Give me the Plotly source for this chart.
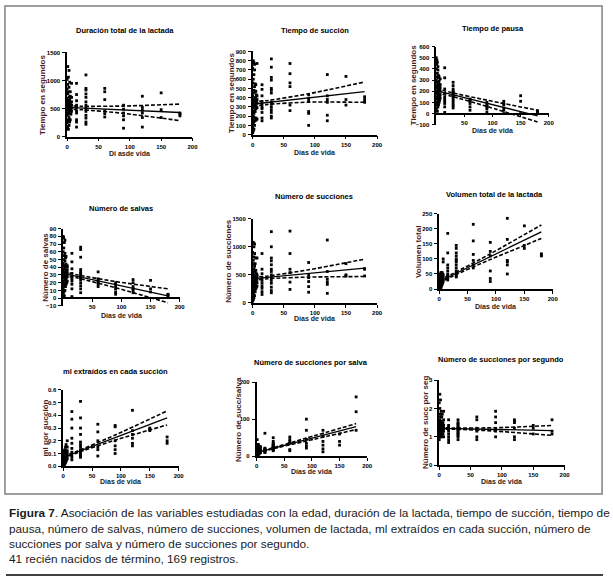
import plotly.graph_objects as go

W, H = 613, 582

# ---------------- DATA ----------------
dias = ([0]*8 + [1]*8 + [2]*8 + [3]*8 + [4]*6 + [5]*6 + [6]*4 + [7]*6 +
        [15]*10 + [30]*14 + [60]*6 + [90]*6 + [120]*6 + [150]*3 + [180]*3)

duracion = [150, 250, 380, 470, 560, 680, 850, 1020,
            180, 300, 420, 510, 600, 760, 930, 1250,
            130, 280, 400, 490, 550, 640, 800, 1060,
            200, 340, 450, 520, 580, 700, 880, 1180,
            260, 420, 500, 560, 650, 970,
            300, 450, 520, 600, 720, 800,
            400, 500, 560, 700,
            450, 510, 560, 620, 700, 950,
            170, 260, 300, 420, 460, 520, 560, 640, 750, 950,
            220, 260, 330, 380, 450, 480, 520, 560, 620, 700, 760, 830, 860, 1100,
            350, 410, 460, 660, 800, 860,
            150, 300, 370, 420, 490, 560,
            170, 340, 420, 470, 520, 720,
            340, 480, 780,
            370, 400, 420]

succion = [20, 80, 160, 250, 330, 420, 560, 720,
           40, 120, 200, 290, 360, 450, 600, 800,
           60, 140, 230, 310, 380, 480, 650, 780,
           100, 180, 260, 330, 400, 520, 700, 760,
           150, 250, 320, 380, 460, 550,
           180, 280, 340, 400, 470, 540,
           160, 300, 360, 430,
           170, 290, 340, 380, 420, 770,
           150, 180, 240, 280, 300, 330, 360, 420, 490, 540,
           180, 200, 240, 270, 300, 330, 350, 450, 480, 500, 590, 620, 730, 820,
           260, 320, 520, 560, 660, 770,
           100, 230, 250, 360, 390, 430,
           150, 210, 350, 380, 420, 650,
           320, 380, 630,
           350, 380, 410]

pausa = [30, 80, 130, 180, 230, 300, 400, 500,
         50, 100, 150, 200, 250, 330, 440, 480,
         20, 90, 140, 190, 240, 280, 360, 460,
         60, 110, 160, 210, 260, 320, 390, 420,
         80, 130, 170, 220, 280, 340,
         100, 150, 200, 230, 290, 330,
         120, 160, 210, 250,
         140, 170, 200, 230, 260, 310,
         10, 60, 90, 110, 130, 150, 180, 220, 320, 410,
         50, 70, 90, 110, 130, 150, 160, 170, 180, 190, 200, 220, 250, 280,
         30, 60, 90, 110, 120, 130,
         10, 40, 60, 70, 80, 100,
         0, 30, 50, 80, 90, 110,
         0, 110, 160,
         15, 20, 25]

salvas = [5, 12, 20, 28, 35, 45, 60, 80,
          8, 15, 22, 30, 38, 50, 65, 78,
          3, 10, 18, 26, 33, 42, 55, 72,
          10, 18, 25, 32, 40, 48, 58, 75,
          15, 22, 28, 34, 42, 52,
          18, 25, 30, 36, 44, 54,
          20, 27, 33, 40,
          22, 28, 32, 36, 40, 42,
          2, 12, 18, 22, 25, 28, 32, 38, 47, 58,
          7, 12, 16, 20, 24, 26, 28, 30, 32, 34, 37, 53, 63, 66,
          15, 18, 20, 22, 25, 34,
          5, 8, 12, 15, 18, 20,
          7, 10, 12, 15, 20, 24,
          8, 12, 23,
          3, 4, 5]

succiones = [30, 120, 220, 330, 420, 520, 700, 900,
             60, 160, 260, 360, 450, 560, 760, 1080,
             90, 190, 290, 380, 470, 600, 820, 1000,
             130, 230, 320, 400, 500, 650, 880, 1050,
             200, 300, 380, 460, 550, 700,
             250, 330, 400, 480, 580, 800,
             280, 370, 440, 520,
             300, 360, 420, 470, 500, 800,
             150, 200, 260, 300, 350, 400, 450, 520, 600, 880,
             180, 220, 280, 350, 400, 450, 500, 560, 600, 680, 750, 800, 1000, 1270,
             240, 370, 540, 600, 880, 1280,
             190, 290, 380, 450, 500, 720,
             170, 330, 370, 420, 560, 1120,
             480, 500, 700,
             480, 600, 610]

volumen = [0, 2, 4, 6, 10, 15, 22, 30,
           1, 4, 8, 12, 18, 25, 35, 45,
           3, 6, 10, 16, 22, 30, 40, 50,
           5, 10, 15, 22, 28, 35, 45, 55,
           10, 18, 25, 32, 40, 50,
           15, 22, 30, 36, 45, 55,
           20, 30, 38, 50,
           25, 32, 40, 48, 90, 100,
           30, 35, 40, 45, 50, 60, 70, 80, 120, 185,
           40, 45, 50, 55, 60, 70, 80, 90, 95, 100, 110, 120, 135, 145,
           70, 80, 95, 115, 160, 215,
           25, 35, 60, 110, 125, 155,
           50, 80, 90, 95, 165, 235,
           135, 145, 210,
           110, 113, 117]

ml_succion = [0.00, 0.01, 0.02, 0.03, 0.05, 0.07, 0.09, 0.12,
              0.00, 0.02, 0.03, 0.05, 0.06, 0.08, 0.10, 0.11,
              0.01, 0.02, 0.04, 0.05, 0.07, 0.09, 0.10, 0.12,
              0.02, 0.03, 0.05, 0.06, 0.08, 0.09, 0.11, 0.13,
              0.03, 0.05, 0.07, 0.09, 0.11, 0.15,
              0.04, 0.06, 0.08, 0.10, 0.12, 0.17,
              0.05, 0.07, 0.09, 0.12,
              0.06, 0.08, 0.10, 0.12, 0.15, 0.20,
              0.05, 0.07, 0.09, 0.11, 0.14, 0.18, 0.22, 0.30, 0.37, 0.43,
              0.07, 0.08, 0.09, 0.10, 0.11, 0.12, 0.13, 0.15, 0.17, 0.19, 0.25, 0.30, 0.38, 0.51,
              0.08, 0.13, 0.15, 0.20, 0.27, 0.33,
              0.10, 0.13, 0.16, 0.20, 0.31, 0.32,
              0.16, 0.18, 0.22, 0.25, 0.28, 0.44,
              0.28, 0.29, 0.30,
              0.18, 0.20, 0.23]

succ_salva = [2, 5, 8, 10, 13, 16, 20, 25,
              3, 6, 9, 12, 15, 18, 24, 45,
              4, 7, 10, 13, 16, 20, 26, 30,
              5, 8, 11, 14, 17, 21, 25, 32,
              6, 10, 13, 16, 20, 28,
              8, 11, 14, 18, 22, 25,
              9, 12, 16, 20,
              10, 13, 16, 19, 22, 26,
              10, 12, 14, 15, 16, 17, 18, 20, 22, 62,
              15, 17, 19, 20, 22, 24, 25, 26, 28, 30, 32, 35, 40, 50,
              15, 18, 35, 40, 45, 52,
              22, 28, 35, 45, 70, 100,
              12, 20, 30, 40, 55, 70,
              30, 40, 60,
              70, 120, 160]

succ_seg = [0.9, 1.0, 1.1, 1.2, 1.3, 1.5, 1.8, 2.2,
            1.0, 1.1, 1.2, 1.3, 1.4, 1.6, 2.0, 2.5,
            1.0, 1.1, 1.2, 1.3, 1.35, 1.5, 1.7, 2.3,
            1.05, 1.15, 1.25, 1.3, 1.4, 1.55, 1.8, 1.9,
            1.0, 1.2, 1.3, 1.35, 1.45, 1.7,
            1.1, 1.2, 1.25, 1.3, 1.4, 1.8,
            1.1, 1.25, 1.3, 1.5,
            1.0, 1.2, 1.3, 1.4, 1.6, 1.9,
            0.8, 0.9, 1.0, 1.1, 1.2, 1.25, 1.3, 1.35, 1.4, 1.6,
            0.9, 1.0, 1.05, 1.1, 1.15, 1.2, 1.25, 1.3, 1.3, 1.35, 1.4, 1.45, 1.5, 1.6,
            0.9, 1.0, 1.2, 1.3, 1.6, 1.7,
            1.0, 1.2, 1.3, 1.5, 1.7, 1.9,
            0.9, 1.0, 1.3, 1.5, 1.55, 1.6,
            1.1, 1.3, 1.4,
            1.1, 1.2, 1.6]

# regression lines and 95% bands
fit_x = [0, 180]
band_x = [0, 25, 90, 180]
fits = {
    "duracion":   ([520, 430],   [550, 540, 545, 580],       [490, 478, 415, 285]),
    "succion":    ([330, 465],   [355, 370, 442, 570],       [305, 328, 352, 350]),
    "pausa":      ([205, -20],   [225, 190, 120, 30],        [185, 158, 64, -75]),
    "salvas":     ([32, 3],      [34.5, 30, 21.5, 12],       [29.5, 26, 13.5, -6]),
    "succiones":  ([430, 620],   [460, 480, 590, 780],       [400, 432, 460, 470]),
    "volumen":    ([25, 190],    [30, 52, 117, 213],         [20, 44, 98, 168]),
    "ml_succion": ([0.07, 0.38], [0.08, 0.12, 0.245, 0.435], [0.06, 0.106, 0.205, 0.325]),
    "succ_salva": ([10, 80],     [12, 21, 49, 88],           [8, 18.5, 41, 72]),
    "succ_seg":   ([1.30, 1.22], [1.33, 1.31, 1.32, 1.40],   [1.27, 1.27, 1.20, 1.05]),
}

titles = ["Duración total de la lactada", "Tiempo de succión", "Tiempo de pausa",
          "Número de salvas", "Número de succiones", "Volumen total de la lactada",
          "ml extraídos en cada succión", "Número de succiones por salva",
          "Número de succiones por segundo"]
ylabels = ["Tiempo en segundos", "Tiempo en segundos", "Tiempo en segundos",
           "Número de salvas", "Número de succiones", "Volumen total",
           "ml por succión", "Número de succ/salva", "Número de succ por seg"]
xlabels = ["Di asde vida"] + ["Días de vida"] * 8
keys = ["duracion", "succion", "pausa", "salvas", "succiones", "volumen",
        "ml_succion", "succ_salva", "succ_seg"]
series = [duracion, succion, pausa, salvas, succiones, volumen,
          ml_succion, succ_salva, succ_seg]
yranges = [(0, 1500, 500), (0, 900, 100), (-100, 600, 100), (-10, 90, 10),
           (0, 1500, 500), (0, 250, 50), (0, 0.6, 0.1), (0, 200, 100), (0, 3, 1)]

# ---------------- LAYOUT (pixel geometry) ----------------
# x0px, x1px, ytop_px, ybot_px
boxes = [(66, 193, 50, 135), (254, 380, 49, 133), (440, 554, 44, 123),
         (62, 180, 228, 306), (254, 380, 218, 303), (443, 558, 213, 289),
         (62, 179, 391, 468), (258, 370, 383, 458), (443, 570, 381, 467)]
title_pos = [(125, 28), (317, 28), (497, 26), (121, 208), (316, 196), (499, 194),
             (115, 372), (313, 363), (506, 360)]
ylab_x = [41, 232, 417, 44, 230, 422, 44, 239, 429]
xlab_y = [152, 151, 129, 316, 319, 307, 483, 473, 483]


def fx(p):
    return p / W


def fy(p):
    return 1 - p / H


fig = go.Figure()
annotations = []
shapes = []
BASE = "Liberation Sans"

for i in range(9):
    ax = "" if i == 0 else str(i + 1)
    xref, yref = "x" + ax, "y" + ax
    x0, x1, yt, yb = boxes[i]
    ymin, ymax, dt = yranges[i]
    fl, up, lo = fits[keys[i]]

    fig.add_trace(go.Scatter(x=dias, y=series[i], mode="markers", xaxis=xref, yaxis=yref,
                             marker=dict(symbol="square", size=2.8, color="black"),
                             cliponaxis=False, showlegend=False, hoverinfo="skip"))
    fig.add_trace(go.Scatter(x=fit_x, y=fl, mode="lines", xaxis=xref, yaxis=yref,
                             line=dict(color="black", width=1.3), showlegend=False))
    for b in (up, lo):
        fig.add_trace(go.Scatter(x=band_x, y=b, mode="lines", xaxis=xref, yaxis=yref,
                                 line=dict(color="black", width=1.6, dash="4px,2px",
                                           shape="spline", smoothing=0.6),
                                 showlegend=False))

    ydom = [fy(yb), fy(yt)]
    xaxis = dict(domain=[fx(x0), fx(x1)], range=[0, 200], tickvals=[0, 50, 100, 150, 200],
                 showline=True, linecolor="black", linewidth=1.5, ticks="outside",
                 ticklen=3, tickwidth=1.2, tickcolor="black", showgrid=False, zeroline=False,
                 tickfont=dict(family=BASE, size=6, color="black", weight="bold"),
                 anchor=yref)
    if ymin < 0:
        xaxis["anchor"] = "free"
        xaxis["position"] = ydom[0] + (0 - ymin) / (ymax - ymin) * (ydom[1] - ydom[0])
        xaxis["tickvals"] = [50, 100, 150, 200]
    nt = int(round((ymax - ymin) / dt))
    yt_vals = [round(ymin + k * dt, 6) for k in range(nt + 1)]
    yaxis = dict(domain=ydom, range=[ymin, ymax], tickvals=yt_vals,
                 showline=True, linecolor="black", linewidth=1.5, ticks="outside",
                 ticklen=3, tickwidth=1.2, tickcolor="black", showgrid=False, zeroline=False,
                 tickfont=dict(family=BASE, size=6, color="black", weight="bold"),
                 anchor=xref, ticklabelstandoff=1)
    if keys[i] == "ml_succion":
        yaxis["tickformat"] = ".1f"
    fig.layout["xaxis" + ax] = xaxis
    fig.layout["yaxis" + ax] = yaxis

    tx, ty = title_pos[i]
    annotations.append(dict(text=titles[i], x=fx(tx), y=fy(ty), xref="paper", yref="paper",
                            showarrow=False, xanchor="center", yanchor="middle",
                            font=dict(family=BASE, size=7.5, color="black", weight="bold")))
    annotations.append(dict(text=xlabels[i], x=fx((x0 + x1) / 2), y=fy(xlab_y[i]),
                            xref="paper", yref="paper", showarrow=False,
                            xanchor="center", yanchor="middle", borderpad=0,
                            font=dict(family=BASE, size=7, color="#222222", weight="bold")))
    annotations.append(dict(text=ylabels[i], x=fx(ylab_x[i]), y=fy((yt + yb) / 2),
                            xref="paper", yref="paper", showarrow=False, textangle=-90,
                            xanchor="center", yanchor="middle", borderpad=0,
                            font=dict(family=BASE, size=8, color="#4a1c1c", weight="bold")))

# frame and caption
shapes.append(dict(type="rect", xref="paper", yref="paper", x0=fx(3), x1=fx(608),
                   y0=fy(496), y1=fy(3), line=dict(color="#808080", width=1.5)))
shapes.append(dict(type="line", xref="paper", yref="paper", x0=fx(4), x1=fx(609),
                   y0=fy(578), y1=fy(578), line=dict(color="black", width=1.5)))

caption = [
    "<b>Figura 7</b>. Asociación de las variables estudiadas con la edad, duración de la lactada, tiempo de succión, tiempo de",
    "pausa, número de salvas, número de succiones, volumen de lactada, ml extraídos en cada succión, número de",
    "succiones por salva y número de succiones por segundo.",
    "41 recién nacidos de término, 169 registros.",
]
cap_y = [515, 531, 547, 562]
for t, cy in zip(caption, cap_y):
    annotations.append(dict(text=t, x=fx(5), y=fy(cy), xref="paper", yref="paper",
                            showarrow=False, xanchor="left", yanchor="middle",
                            font=dict(family=BASE, size=11.8, color="#1a1a1a")))

fig.update_layout(width=W, height=H, margin=dict(l=0, r=0, t=0, b=0),
                  paper_bgcolor="white", plot_bgcolor="white",
                  annotations=annotations, shapes=shapes, showlegend=False)

fig.write_html("out.html", config={"displayModeBar": False},
               post_script="document.body.style.margin='0px';document.body.style.overflow='hidden';")
